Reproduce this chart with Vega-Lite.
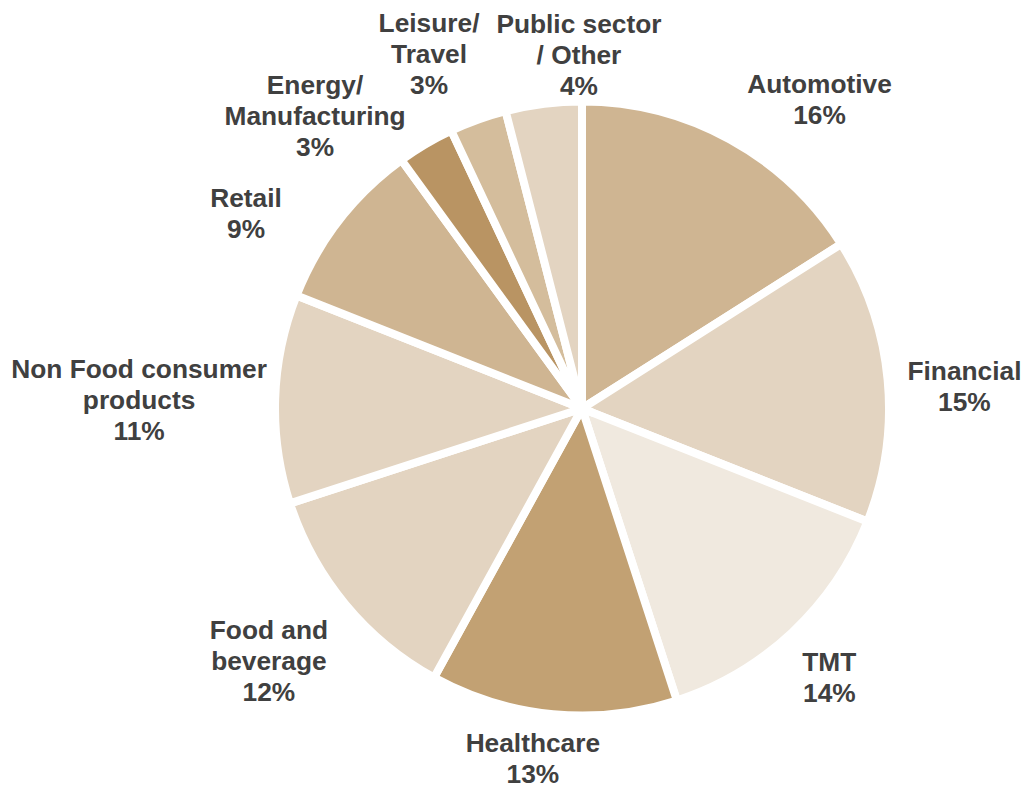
{
  "$schema": "https://vega.github.io/schema/vega-lite/v6.json",
  "width": 892,
  "height": 757,
  "autosize": {"type": "none"},
  "padding": {"left": 136, "top": 30, "right": 0, "bottom": 0},
  "background": "white",
  "config": {"view": {"stroke": null}},
  "data": {
    "values": [
      {"idx": 1, "category": "Automotive", "share": 16, "label": "Automotive\n16%"},
      {"idx": 2, "category": "Financial", "share": 15, "label": "Financial\n15%"},
      {"idx": 3, "category": "TMT", "share": 14, "label": "TMT\n14%"},
      {"idx": 4, "category": "Healthcare", "share": 13, "label": "Healthcare\n13%"},
      {"idx": 5, "category": "Food and beverage", "share": 12, "label": "Food and\nbeverage\n12%"},
      {"idx": 6, "category": "Non Food consumer products", "share": 11, "label": "Non Food consumer\nproducts\n11%"},
      {"idx": 7, "category": "Retail", "share": 9, "label": "Retail\n9%"},
      {"idx": 8, "category": "Energy/Manufacturing", "share": 3, "label": "Energy/\nManufacturing\n3%"},
      {"idx": 9, "category": "Leisure/Travel", "share": 3, "label": "Leisure/\nTravel\n3%"},
      {"idx": 10, "category": "Public sector/Other", "share": 4, "label": "Public sector\n/ Other\n4%"}
    ]
  },
  "transform": [
    {"stack": "share", "groupby": [], "sort": [{"field": "idx", "order": "ascending"}], "as": ["s0", "s1"]},
    {"calculate": "(datum.s0 + datum.s1) / 2", "as": "mid"}
  ],
  "layer": [
    {
      "mark": {"type": "arc", "radius": 307, "stroke": "white", "strokeWidth": 8},
      "encoding": {
        "theta": {"field": "s0", "type": "quantitative", "stack": null, "scale": {"type": "linear", "domain": [0, 100], "range": [0, 6.283185307]}},
        "theta2": {"field": "s1"},
        "color": {
          "field": "category",
          "type": "nominal",
          "legend": null,
          "scale": {
            "domain": ["Automotive", "Financial", "TMT", "Healthcare", "Food and beverage", "Non Food consumer products", "Retail", "Energy/Manufacturing", "Leisure/Travel", "Public sector/Other"],
            "range": ["#CFB592", "#E3D4C1", "#F0E9DF", "#C2A173", "#E3D4C1", "#E3D4C1", "#CFB592", "#B99463", "#D4BD9C", "#E3D4C1"]
          }
        }
      }
    },
    {
      "transform": [{"filter": "datum.category == 'Automotive'"}],
      "mark": {"type": "text", "radius": 389, "thetaOffset": 0.154, "dy": -15.5, "font": "Liberation Sans", "fontWeight": "bold", "fontSize": 26.3, "lineHeight": 31, "lineBreak": "\n", "color": "#404040", "align": "center", "baseline": "middle"},
      "encoding": {"theta": {"field": "mid", "type": "quantitative", "stack": null}, "text": {"field": "label"}}
    },
    {
      "transform": [{"filter": "datum.category == 'Financial'"}],
      "mark": {"type": "text", "radius": 383, "thetaOffset": 0.04, "dy": -15.5, "font": "Liberation Sans", "fontWeight": "bold", "fontSize": 26.3, "lineHeight": 31, "lineBreak": "\n", "color": "#404040", "align": "center", "baseline": "middle"},
      "encoding": {"theta": {"field": "mid", "type": "quantitative", "stack": null}, "text": {"field": "label"}}
    },
    {
      "transform": [{"filter": "datum.category == 'TMT'"}],
      "mark": {"type": "text", "radius": 366, "thetaOffset": 0.012, "dy": -15.5, "font": "Liberation Sans", "fontWeight": "bold", "fontSize": 26.3, "lineHeight": 31, "lineBreak": "\n", "color": "#404040", "align": "center", "baseline": "middle"},
      "encoding": {"theta": {"field": "mid", "type": "quantitative", "stack": null}, "text": {"field": "label"}}
    },
    {
      "transform": [{"filter": "datum.category == 'Healthcare'"}],
      "mark": {"type": "text", "radius": 354, "thetaOffset": 0.045, "dy": -15.5, "font": "Liberation Sans", "fontWeight": "bold", "fontSize": 26.3, "lineHeight": 31, "lineBreak": "\n", "color": "#404040", "align": "center", "baseline": "middle"},
      "encoding": {"theta": {"field": "mid", "type": "quantitative", "stack": null}, "text": {"field": "label"}}
    },
    {
      "transform": [{"filter": "datum.category == 'Food and beverage'"}],
      "mark": {"type": "text", "radius": 403, "thetaOffset": 0.01, "dy": -31, "font": "Liberation Sans", "fontWeight": "bold", "fontSize": 26.3, "lineHeight": 31, "lineBreak": "\n", "color": "#404040", "align": "center", "baseline": "middle"},
      "encoding": {"theta": {"field": "mid", "type": "quantitative", "stack": null}, "text": {"field": "label"}}
    },
    {
      "transform": [{"filter": "datum.category == 'Non Food consumer products'"}],
      "mark": {"type": "text", "radius": 443, "thetaOffset": -0.014, "dy": -31, "font": "Liberation Sans", "fontWeight": "bold", "fontSize": 26.3, "lineHeight": 31, "lineBreak": "\n", "color": "#404040", "align": "center", "baseline": "middle"},
      "encoding": {"theta": {"field": "mid", "type": "quantitative", "stack": null}, "text": {"field": "label"}}
    },
    {
      "transform": [{"filter": "datum.category == 'Retail'"}],
      "mark": {"type": "text", "radius": 388, "thetaOffset": -0.136, "dy": -15.5, "font": "Liberation Sans", "fontWeight": "bold", "fontSize": 26.3, "lineHeight": 31, "lineBreak": "\n", "color": "#404040", "align": "center", "baseline": "middle"},
      "encoding": {"theta": {"field": "mid", "type": "quantitative", "stack": null}, "text": {"field": "label"}}
    },
    {
      "transform": [{"filter": "datum.category == 'Energy/Manufacturing'"}],
      "mark": {"type": "text", "radius": 395, "thetaOffset": -0.208, "dy": -31, "font": "Liberation Sans", "fontWeight": "bold", "fontSize": 26.3, "lineHeight": 31, "lineBreak": "\n", "color": "#404040", "align": "center", "baseline": "middle"},
      "encoding": {"theta": {"field": "mid", "type": "quantitative", "stack": null}, "text": {"field": "label"}}
    },
    {
      "transform": [{"filter": "datum.category == 'Leisure/Travel'"}],
      "mark": {"type": "text", "radius": 385, "thetaOffset": -0.063, "dy": -31, "font": "Liberation Sans", "fontWeight": "bold", "fontSize": 26.3, "lineHeight": 31, "lineBreak": "\n", "color": "#404040", "align": "center", "baseline": "middle"},
      "encoding": {"theta": {"field": "mid", "type": "quantitative", "stack": null}, "text": {"field": "label"}}
    },
    {
      "transform": [{"filter": "datum.category == 'Public sector/Other'"}],
      "mark": {"type": "text", "radius": 353, "thetaOffset": 0.117, "dy": -31, "font": "Liberation Sans", "fontWeight": "bold", "fontSize": 26.3, "lineHeight": 31, "lineBreak": "\n", "color": "#404040", "align": "center", "baseline": "middle"},
      "encoding": {"theta": {"field": "mid", "type": "quantitative", "stack": null}, "text": {"field": "label"}}
    }
  ]
}
